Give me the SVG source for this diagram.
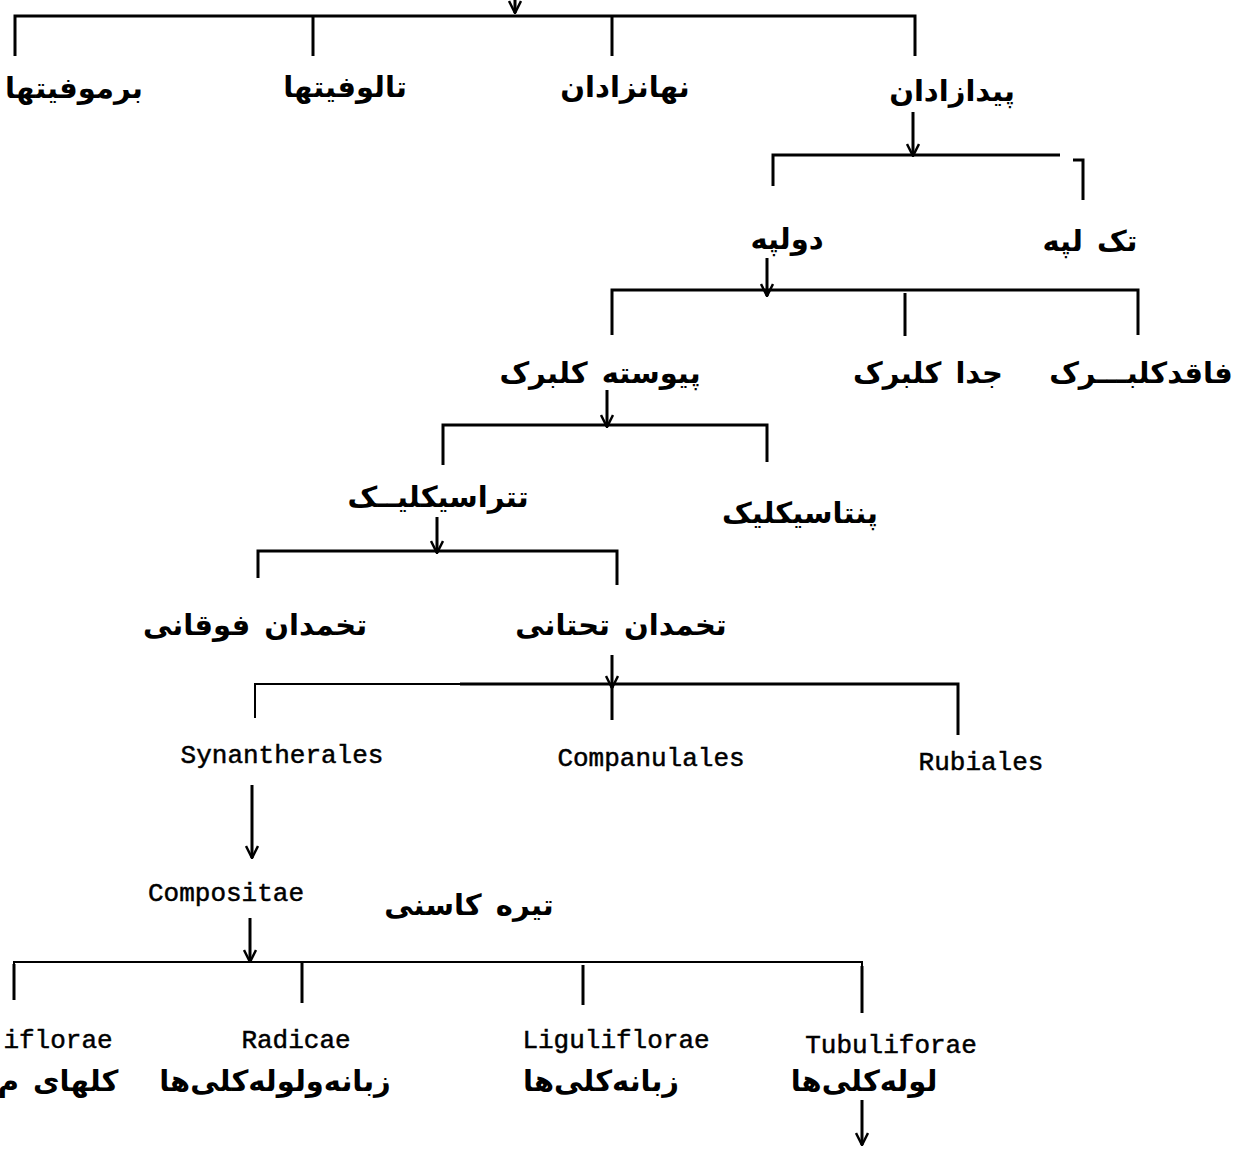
<svg xmlns="http://www.w3.org/2000/svg" width="1247" height="1152" viewBox="0 0 1247 1152">
<style>
.fa{font-family:"DejaVu Sans","Noto Sans",sans-serif;font-weight:bold;font-size:29px;fill:#000;text-anchor:middle;word-spacing:4px}
.la{font-family:"Liberation Mono","DejaVu Sans Mono",monospace;font-size:26px;fill:#000;stroke:#000;stroke-width:0.5;text-anchor:middle}
.ln{fill:none;stroke:#000;stroke-width:3}
.thin{fill:none;stroke:#000;stroke-width:2}
</style>
<defs>
<marker id="ah" viewBox="0 0 14 14" refX="13" refY="7" markerWidth="14" markerHeight="14" markerUnits="userSpaceOnUse" orient="auto">
<path d="M1,1 L13,7 L1,13" fill="none" stroke="#000" stroke-width="2.5"/>
</marker>
</defs>
<rect width="1247" height="1152" fill="#fff"/>
<g id="connectors">
<path class="ln" d="M515,-20 V13" marker-end="url(#ah)"/>
<path class="ln" d="M15,56 V16 H915 V56"/>
<path class="ln" d="M313,16 V56"/>
<path class="ln" d="M612,16 V56"/>
<path class="ln" d="M913,112 V156" marker-end="url(#ah)"/>
<path class="ln" d="M773,186 V155 H1060"/>
<path class="ln" d="M1073,160 H1083 V200"/>
<path class="ln" d="M767,258 V296" marker-end="url(#ah)"/>
<path class="ln" d="M612,335 V290 H1138 V335"/>
<path class="ln" d="M905,293 V336"/>
<path class="ln" d="M607,390 V427" marker-end="url(#ah)"/>
<path class="ln" d="M443,465 V425 H767 V462"/>
<path class="ln" d="M437,517 V553" marker-end="url(#ah)"/>
<path class="ln" d="M258,578 V551 H617 V585"/>
<path class="ln" d="M612,655 V688" marker-end="url(#ah)"/>
<path class="thin" d="M255,718 V684 H460"/>
<path class="ln" d="M460,684 H958 V735"/>
<path class="ln" d="M612,686 V720"/>
<path class="ln" d="M252,785 V858" marker-end="url(#ah)"/>
<path class="ln" d="M250,918 V962" marker-end="url(#ah)"/>
<path class="thin" d="M14,1000 V962 H862 V1013"/>
<path class="ln" d="M14,964 V1000"/>
<path class="ln" d="M302,962 V1003"/>
<path class="ln" d="M583,965 V1005"/>
<path class="ln" d="M862,966 V1013"/>
<path class="ln" d="M862,1100 V1145" marker-end="url(#ah)"/>
</g>
<g id="n-bryophytes"><text class="fa" x="74" y="98">برموفیتها</text></g>
<g id="n-thallophytes"><text class="fa" x="345" y="97">تالوفیتها</text></g>
<g id="n-cryptogams"><text class="fa" x="625" y="97">نهانزادان</text></g>
<g id="n-phanerogams"><text class="fa" x="952" y="101">پیدازادان</text></g>
<g id="n-dicot"><text class="fa" x="787" y="249">دولپه</text></g>
<g id="n-monocot"><text class="fa" x="1090" y="251">تک لپه</text></g>
<g id="n-gamopetalae"><text class="fa" x="600" y="383">پیوسته کلبرک</text></g>
<g id="n-polypetalae"><text class="fa" x="928" y="383">جدا کلبرک</text></g>
<g id="n-apetalae"><text class="fa" x="1141" y="383">فاقدکلبـــرک</text></g>
<g id="n-tetracyclic"><text class="fa" x="438" y="507">تتراسیکلیــک</text></g>
<g id="n-pentacyclic"><text class="fa" x="800" y="523">پنتاسیکلیک</text></g>
<g id="n-superior"><text class="fa" x="255" y="635">تخمدان فوقانی</text></g>
<g id="n-inferior"><text class="fa" x="621" y="635">تخمدان تحتانی</text></g>
<g id="n-synantherales"><text class="la" x="282" y="763">Synantherales</text></g>
<g id="n-companulales"><text class="la" x="651" y="766">Companulales</text></g>
<g id="n-rubiales"><text class="la" x="981" y="770">Rubiales</text></g>
<g id="n-compositae"><text class="la" x="226" y="901">Compositae</text><text class="fa" x="469" y="915">تیره کاسنی</text></g>
<g id="n-iflorae"><text class="la" x="58" y="1048">iflorae</text><text class="fa" x="58" y="1091">کلهای م</text></g>
<g id="n-radicae"><text class="la" x="296" y="1048">Radicae</text><text class="fa" x="275" y="1091">زبانه‌ولوله‌کلی‌ها</text></g>
<g id="n-liguliflorae"><text class="la" x="616" y="1048">Liguliflorae</text><text class="fa" x="601" y="1091">زبانه‌کلی‌ها</text></g>
<g id="n-tubuliforae"><text class="la" x="891" y="1053">Tubuliforae</text><text class="fa" x="864" y="1091">لوله‌کلی‌ها</text></g>
</svg>
